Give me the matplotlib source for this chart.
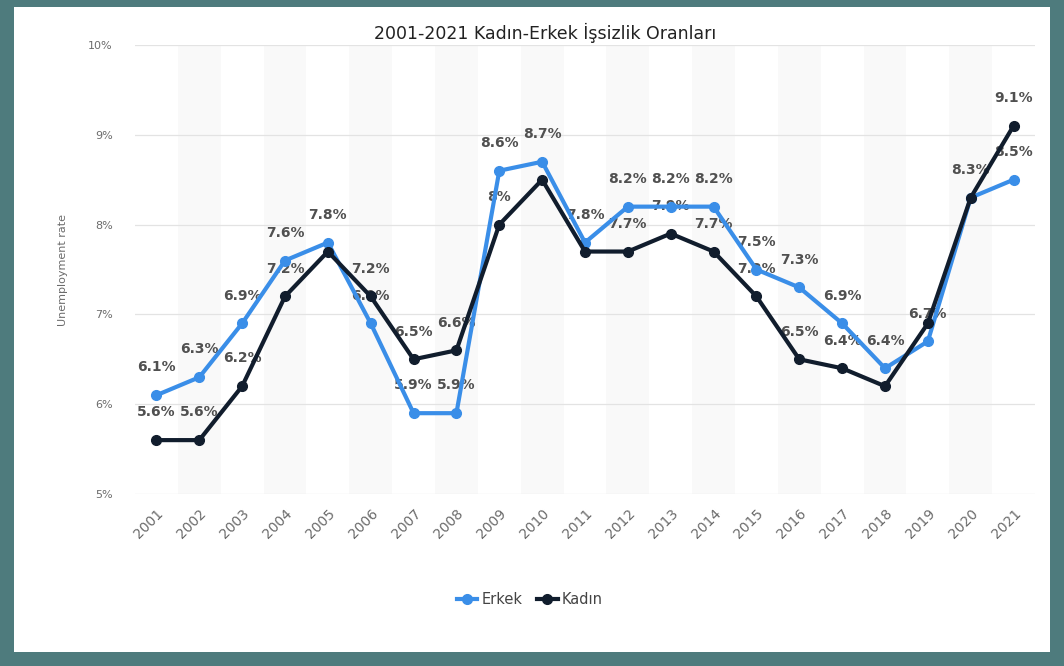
import matplotlib
matplotlib.use('Agg')
import matplotlib.pyplot as plt
from matplotlib.patches import Rectangle

#%% Data
years = [2001, 2002, 2003, 2004, 2005, 2006, 2007, 2008, 2009, 2010, 2011,
         2012, 2013, 2014, 2015, 2016, 2017, 2018, 2019, 2020, 2021]
erkek = [6.1, 6.3, 6.9, 7.6, 7.8, 6.9, 5.9, 5.9, 8.6, 8.7, 7.8,
         8.2, 8.2, 8.2, 7.5, 7.3, 6.9, 6.4, 6.7, 8.3, 8.5]
kadin = [5.6, 5.6, 6.2, 7.2, 7.7, 7.2, 6.5, 6.6, 8.0, 8.5, 7.7,
         7.7, 7.9, 7.7, 7.2, 6.5, 6.4, 6.2, 6.9, 8.3, 9.1]
# labels the original chart did not show (overlaps)
erkek_hidden = [2020]
kadin_hidden = [2005, 2010, 2011, 2018, 2019]
y_ticks = [5, 6, 7, 8, 9, 10]

title = '2001-2021 Kadın-Erkek İşsizlik Oranları'
ylabel = 'Unemployment rate'

#%% Plot features
blue = '#3a8ee8'
navy = '#111d2d'
grey_txt = '#6b6b6b'
label_txt = '#505050'

fig = plt.figure(figsize=(10.64, 6.66), dpi=100)
fig.patch.set_facecolor('#4e7b7d')
# white card inside the teal frame
fig.patches.append(Rectangle((14 / 1064, 14 / 666), 1036 / 1064, 645 / 666,
                             transform=fig.transFigure, facecolor='white',
                             edgecolor='none', zorder=-10))

ax = fig.add_axes([135 / 1064, 1 - 494 / 666, 900 / 1064, 449 / 666])
ax.set_facecolor('none')
ax.set_zorder(1)

# alternating background bands
for i, yr in enumerate(years):
    if i % 2 == 1:
        ax.axvspan(yr - 0.5, yr + 0.5, color='#f9f9f9', zorder=0, lw=0)

for t in y_ticks:
    ax.axhline(t, color='#e3e3e3', lw=0.9, zorder=1)

ax.plot(years, erkek, color=blue, lw=3.0, marker='o', markersize=7,
        label='Erkek', zorder=4)
ax.plot(years, kadin, color=navy, lw=3.0, marker='o', markersize=7,
        label='Kadın', zorder=4)

for yr, v in zip(years, erkek):
    if yr in erkek_hidden:
        continue
    ax.annotate('{:g}%'.format(v), (yr, v), xytext=(0, 20), textcoords='offset points',
                ha='center', va='center', fontsize=10, fontweight='bold',
                color=label_txt, zorder=3)
for yr, v in zip(years, kadin):
    if yr in kadin_hidden:
        continue
    ax.annotate('{:g}%'.format(v), (yr, v), xytext=(0, 20), textcoords='offset points',
                ha='center', va='center', fontsize=10, fontweight='bold',
                color=label_txt, zorder=3)

ax.set_xlim(years[0] - 0.5, years[-1] + 0.5)
ax.set_ylim(5, 10)
ax.set_yticks(y_ticks)
ax.set_yticklabels(['{}%'.format(t) for t in y_ticks])
ax.set_xticks(years)
ax.set_xticklabels([str(y) for y in years], rotation=45, ha='right',
                   rotation_mode='anchor')
ax.tick_params(axis='y', length=0, pad=16, labelsize=8, labelcolor=grey_txt)
ax.tick_params(axis='x', length=0, pad=9, labelsize=10, labelcolor=grey_txt)
for s in ax.spines.values():
    s.set_visible(False)

ax.set_ylabel(ylabel, fontsize=8, color=grey_txt)
ax.yaxis.set_label_coords(-0.074, 0.5)

fig.text(545 / 1064, 1 - 33 / 666, title, ha='center', va='center',
         fontsize=12.5, color='#222222')

fig.legend(loc='center', bbox_to_anchor=(0.498, 1 - 600 / 666), ncol=2,
           frameon=False, fontsize=10.5, handlelength=1.4, columnspacing=1.0,
           handletextpad=0.3, labelcolor='#444444')

plt.savefig('out.png', dpi=100, facecolor=fig.get_facecolor())
plt.close(fig)
